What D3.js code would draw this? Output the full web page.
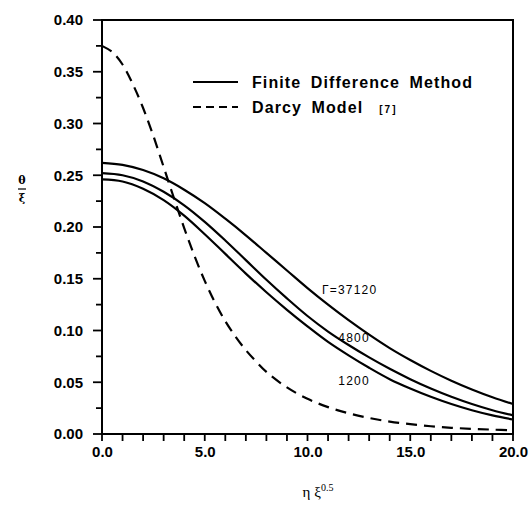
<!DOCTYPE html>
<html><head><meta charset="utf-8">
<script src="https://cdn.jsdelivr.net/npm/d3@7"></script>
<style>
html,body{margin:0;padding:0;background:#fff;}
svg{display:block;}
</style></head>
<body>
<svg id="chart" width="531" height="508"></svg>
<script>
// ---- data ----
const xFD = [0,1,2,3,4,5,6,7,8,9,10,11,12,13,14,15,16,17,18,19,20];
const fd37120 = [0.262,0.260,0.255,0.247,0.236,0.223,0.208,0.192,0.175,0.158,0.141,0.125,0.110,0.096,0.083,0.0715,0.061,0.0515,0.043,0.0355,0.029];
const fd4800  = [0.252,0.250,0.244,0.234,0.221,0.205,0.187,0.168,0.149,0.131,0.114,0.099,0.086,0.074,0.063,0.053,0.044,0.036,0.029,0.023,0.018];
const fd1200  = [0.246,0.244,0.237,0.226,0.211,0.193,0.174,0.155,0.137,0.120,0.104,0.089,0.076,0.064,0.053,0.044,0.036,0.029,0.023,0.018,0.014];
const xDarcy = [0,0.5,1,1.5,2,2.5,3,3.5,4,4.5,5,5.5,6,6.5,7,7.5,8,9,10,11,12,13,14,15,16,17,18,19,20];
const darcy  = [0.375,0.369,0.357,0.338,0.315,0.288,0.258,0.228,0.199,0.172,0.148,0.127,0.109,0.094,0.081,0.070,0.060,0.045,0.034,0.026,0.020,0.0155,0.012,0.0095,0.0075,0.006,0.005,0.0042,0.0035];
const curveLabels = ["\u0393=37120","4800","1200"];
const labelAt = [[10.7,0.135],[11.5,0.089],[11.5,0.047]];
const xTickVals = [0,5,10,15,20];
const yTickVals = [0,0.05,0.10,0.15,0.20,0.25,0.30,0.35,0.40];
const legendItems = ["Finite Difference Method","Darcy Model"];

// ---- layout ----
const svg = d3.select("#chart");
const x = d3.scaleLinear().domain([0,20]).range([102,513]);
const y = d3.scaleLinear().domain([0,0.4]).range([434,20]);
const font = "'Liberation Sans', Arial, sans-serif";

// x ticks (every 1.0)
const xMinor = d3.range(0,21,1);
svg.append("g").selectAll("line").data(xMinor).join("line")
  .attr("x1",d=>x(d)).attr("x2",d=>x(d)).attr("y1",y(0)).attr("y2",y(0)+7)
  .attr("stroke","#000").attr("stroke-width",1.8);
const xLab = svg.append("g").attr("transform",`translate(0,${y(0)})`)
  .call(d3.axisBottom(x).tickValues(xTickVals).tickSize(0).tickPadding(12).tickFormat(d3.format(".1f")));
xLab.select(".domain").remove();
xLab.selectAll("text").attr("font-family",font).attr("font-weight","bold").attr("font-size",15).attr("fill","#000");

// y ticks (every 0.025, longer at 0.05)
const yMinor = d3.range(0,17,1).map(i=>i*0.025);
svg.append("g").selectAll("line").data(yMinor).join("line")
  .attr("x1",x(0)).attr("x2",(d,i)=>x(0)-(i%2===0?9:6)).attr("y1",d=>y(d)).attr("y2",d=>y(d))
  .attr("stroke","#000").attr("stroke-width",1.8);
const yLab = svg.append("g").attr("transform",`translate(${x(0)},0)`)
  .call(d3.axisLeft(y).tickValues(yTickVals).tickSize(0).tickPadding(19).tickFormat(d3.format(".2f")));
yLab.select(".domain").remove();
yLab.selectAll("text").attr("font-family",font).attr("font-weight","bold").attr("font-size",15).attr("fill","#000");

// frame
svg.append("rect").attr("x",x(0)).attr("y",y(0.4)).attr("width",x(20)-x(0)).attr("height",y(0)-y(0.4))
  .attr("fill","none").attr("stroke","#000").attr("stroke-width",2);

// lines
const line = d3.line().x(d=>x(d[0])).y(d=>y(d[1])).curve(d3.curveCatmullRom.alpha(0.5));
[fd37120,fd4800,fd1200].forEach(s=>{
  svg.append("path").datum(xFD.map((v,i)=>[v,s[i]])).attr("d",line)
    .attr("fill","none").attr("stroke","#000").attr("stroke-width",2.2);
});
svg.append("path").datum(xDarcy.map((v,i)=>[v,darcy[i]])).attr("d",line)
  .attr("fill","none").attr("stroke","#000").attr("stroke-width",2.2).attr("stroke-dasharray","11,7");

// curve labels
curveLabels.forEach((t,i)=>{
  svg.append("text").attr("x",x(labelAt[i][0])).attr("y",y(labelAt[i][1]))
    .attr("font-family",font).attr("font-size",12).attr("letter-spacing",1.2).attr("fill","#000").text(t);
});

// legend
svg.append("line").attr("x1",193).attr("x2",238).attr("y1",82).attr("y2",82).attr("stroke","#000").attr("stroke-width",2.2);
svg.append("line").attr("x1",193).attr("x2",238).attr("y1",107).attr("y2",107).attr("stroke","#000").attr("stroke-width",2.2).attr("stroke-dasharray","8,5");
svg.append("text").attr("x",252).attr("y",88).attr("font-family",font).attr("font-weight","bold").attr("font-size",16)
  .attr("letter-spacing",1.1).attr("word-spacing",4).attr("fill","#000").text(legendItems[0]);
const dm = svg.append("text").attr("x",252).attr("y",113).attr("font-family",font).attr("font-weight","bold").attr("font-size",16)
  .attr("letter-spacing",1.1).attr("word-spacing",4).attr("fill","#000");
dm.append("tspan").text(legendItems[1]);
dm.append("tspan").attr("dx",16).attr("font-size",10).attr("letter-spacing",2).text("[7]");

// axis titles
const yt = svg.append("g").attr("transform","translate(22,0)");
yt.append("text").attr("x",0).attr("y",184).attr("text-anchor","middle").attr("font-family","'DejaVu Serif', serif").attr("font-weight","bold").attr("font-size",11).text("\u03B8");
yt.append("line").attr("x1",-4).attr("x2",4).attr("y1",189).attr("y2",189).attr("stroke","#000").attr("stroke-width",1.2);
yt.append("text").attr("x",0).attr("y",202).attr("text-anchor","middle").attr("font-family","'DejaVu Serif', serif").attr("font-weight","bold").attr("font-size",11).text("\u03BE");

const xt = svg.append("text").attr("x",318).attr("y",497).attr("text-anchor","middle").attr("font-family","'Liberation Serif', 'Times New Roman', serif").attr("font-size",15).attr("fill","#000");
xt.append("tspan").text("\u03B7 \u03BE");
xt.append("tspan").attr("dy",-6).attr("font-size",10).text("0.5");
</script>
</body></html>
